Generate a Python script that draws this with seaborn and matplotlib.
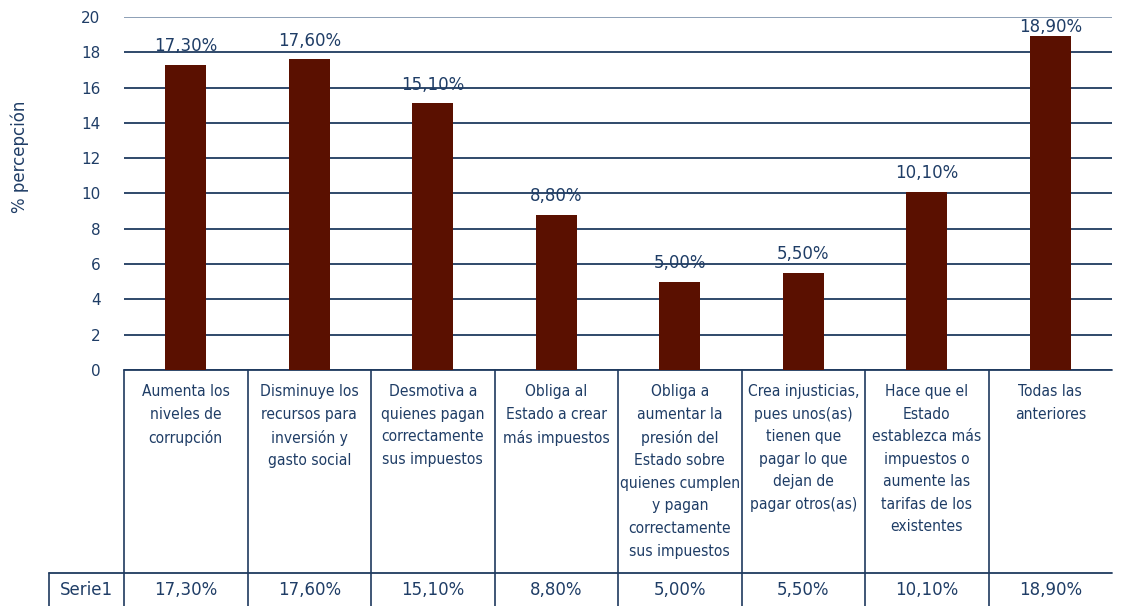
import matplotlib
matplotlib.use('Agg')
import matplotlib.pyplot as plt
import seaborn as sns
import pandas as pd

categories = [
    "Aumenta los\nniveles de\ncorrupción",
    "Disminuye los\nrecursos para\ninversión y\ngasto social",
    "Desmotiva a\nquienes pagan\ncorrectamente\nsus impuestos",
    "Obliga al\nEstado a crear\nmás impuestos",
    "Obliga a\naumentar la\npresión del\nEstado sobre\nquienes cumplen\ny pagan\ncorrectamente\nsus impuestos",
    "Crea injusticias,\npues unos(as)\ntienen que\npagar lo que\ndejan de\npagar otros(as)",
    "Hace que el\nEstado\nestablezca más\nimpuestos o\naumente las\ntarifas de los\nexistentes",
    "Todas las\nanteriores",
]
values = [17.3, 17.6, 15.1, 8.8, 5.0, 5.5, 10.1, 18.9]
series_name = "Serie1"
y_label = "% percepción"
y_ticks = list(range(0, 21, 2))

TEXT = '#1f3d66'
LINE = '#1f3a5f'
LIGHT = '#8497b0'
BAR = '#5a1000'

sns.set_theme(style='white')
plt.rcParams['font.family'] = ['DejaVu Sans']

W, H = 1123, 606
fig = plt.figure(figsize=(W / 100, H / 100), dpi=100)
ax = fig.add_axes([124 / W, 1 - 370 / H, 988 / W, 353 / H])

df = pd.DataFrame({'cat': categories, 'val': values})
sns.barplot(data=df, x='cat', y='val', color=BAR, width=0.33, saturation=1,
            linewidth=0, ax=ax, zorder=3)

ax.set_xlim(-0.5, len(categories) - 0.5)
ax.set_ylim(0, 20)
ax.set_yticks(y_ticks)
ax.yaxis.grid(True, color=LINE, linewidth=1.3, zorder=0)
ax.set_axisbelow(True)
gl = ax.get_ygridlines()
gl[-1].set_color(LIGHT)
for s in ax.spines.values():
    s.set_visible(False)
ax.tick_params(axis='y', length=0, pad=17, labelsize=11, labelcolor=TEXT)
ax.tick_params(axis='x', length=0)
ax.set_xticklabels([])
ax.set_xlabel('')
ax.set_ylabel(y_label, color=TEXT, fontsize=12)
ax.yaxis.set_label_coords(-0.096, 0.603)

fmt = lambda v: f"{v:.2f}%".replace('.', ',')

# bar labels
for i, v in enumerate(values):
    pad = 7 if v < 18.5 else 0
    ax.annotate(fmt(v), (i, v), xytext=(0, pad), textcoords='offset points',
                ha='center', va='bottom', color=TEXT, fontsize=12,
                annotation_clip=False)

# data table
trans = ax.get_xaxis_transform()
row_y = -203 / 353
bottom = -0.75
x_left = -0.5 - 75 / 123.5
n = len(categories)
for i in range(n):
    ax.plot([i - 0.5, i - 0.5], [0, bottom], transform=trans, color=LINE,
            lw=1.2, clip_on=False)
ax.plot([-0.5, n - 0.5], [0, 0], transform=trans, color=LINE, lw=1.3, clip_on=False)
ax.plot([x_left, n - 0.5], [row_y, row_y], transform=trans, color=LINE, lw=1.3,
        clip_on=False)
ax.plot([x_left, x_left], [row_y, bottom], transform=trans, color=LINE, lw=1.2,
        clip_on=False)

for i, c in enumerate(categories):
    ax.text(i, -14 / 353, c, transform=trans, ha='center', va='top',
            color=TEXT, fontsize=11.2, family='DejaVu Sans', fontstretch='condensed',
            linespacing=1.63)
    ax.text(i, -220 / 353, fmt(values[i]), transform=trans, ha='center',
            va='center', color=TEXT, fontsize=12)
ax.text((x_left - 0.5) / 2, -220 / 353, series_name, transform=trans,
        ha='center', va='center', color=TEXT, fontsize=12)

fig.savefig('out.png', dpi=100)
